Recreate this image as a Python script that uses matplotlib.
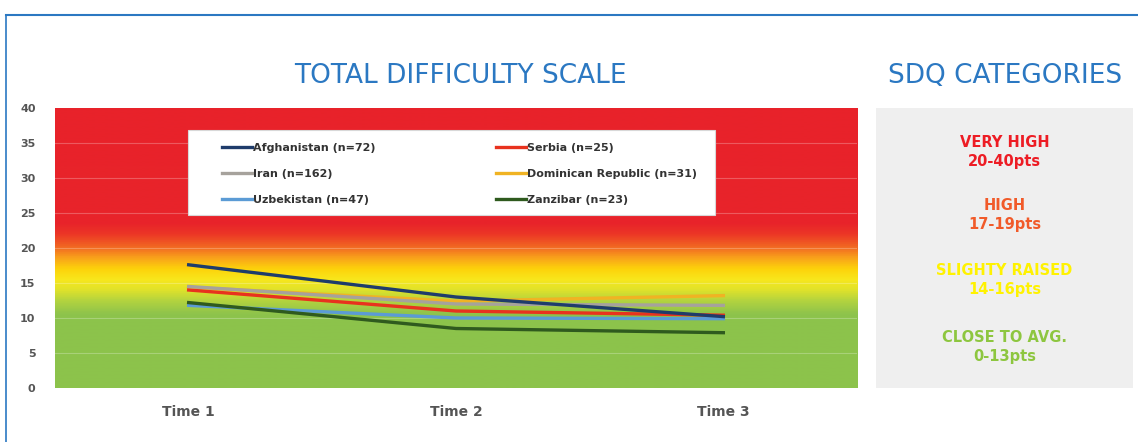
import numpy as np
import matplotlib.pyplot as plt
from matplotlib.colors import LinearSegmentedColormap
from matplotlib.lines import Line2D
from matplotlib.patches import Rectangle

# data
times = ['Time 1', 'Time 2', 'Time 3']
countries = ['Afghanistan (n=72)', 'Iran (n=162)', 'Uzbekistan (n=47)',
             'Serbia (n=25)', 'Dominican Republic (n=31)', 'Zanzibar (n=23)']
afghanistan = [17.6, 13.0, 10.2]
iran = [14.5, 12.0, 11.8]
uzbekistan = [11.8, 10.0, 9.9]
serbia = [14.0, 11.0, 10.4]
dominican = [14.4, 12.4, 13.2]
zanzibar = [12.2, 8.5, 7.9]
colors = ['#1f3c6b', '#a6a29c', '#5b9bd5', '#e8321e', '#f0b323', '#2f5a1e']

yticks = [0, 5, 10, 15, 20, 25, 30, 35, 40]
categories = ['VERY HIGH\n20-40pts', 'HIGH\n17-19pts',
              'SLIGHTY RAISED\n14-16pts', 'CLOSE TO AVG.\n0-13pts']
cat_colors = ['#ed1c24', '#f15a29', '#fff200', '#8dc63f']

blue = '#2b78c2'
W, H = 1138, 442
fig = plt.figure(figsize=(W / 100, H / 100), dpi=100)
fig.patch.set_facecolor('white')

# outer frame (top + left)
fig.add_artist(Line2D([6 / W, 1], [1 - 15 / H, 1 - 15 / H], color=blue, lw=1.5))
fig.add_artist(Line2D([6 / W, 6 / W], [0, 1 - 15 / H], color=blue, lw=1.2))

ax = fig.add_axes([55 / W, (H - 388) / H, 802 / W, 280 / H])

# background gradient by score value
nodes = [(0.0, '#8cc34b'), (10.5 / 40, '#8dc34c'), (12.5 / 40, '#b5d43e'),
         (14 / 40, '#e0e22a'), (15.5 / 40, '#f8e71c'), (17 / 40, '#fdd20a'),
         (18.5 / 40, '#f9a51a'), (20 / 40, '#f26c22'), (22 / 40, '#ec3626'),
         (23.5 / 40, '#e8242a'), (1.0, '#e8222a')]
cmap = LinearSegmentedColormap.from_list('sdq', nodes)
grad = np.linspace(0, 1, 400).reshape(-1, 1)
ax.imshow(grad, cmap=cmap, aspect='auto', origin='lower',
          extent=[0, 3, 0, 40], zorder=0)
for v in yticks[1:-1]:
    ax.axhline(v, color='white', lw=0.8, alpha=0.25, zorder=1)

x = np.arange(len(times)) + 0.5
series = [afghanistan, iran, uzbekistan, serbia, dominican, zanzibar]
order = [2, 4, 3, 1, 0, 5]  # drawing order (back to front)
handles = [None] * len(series)
for i in order:
    ln, = ax.plot(x, series[i], color=colors[i], lw=2.4, zorder=3)
    handles[i] = ln

ax.set_xlim(0, 3)
ax.set_ylim(0, 40)
ax.set_xticks(x)
ax.set_xticklabels(times, fontsize=10, fontweight='bold', color='#555555')
ax.set_yticks(yticks)
ax.set_yticklabels(yticks, fontsize=8, fontweight='bold', color='#555555')
ax.tick_params(length=0)
ax.tick_params(axis='x', pad=12)
ax.tick_params(axis='y', pad=14)
for s in ax.spines.values():
    s.set_visible(False)

# legend box + two legend columns
ax.add_patch(Rectangle((0.166, 0.618), 0.657, 0.303, transform=ax.transAxes,
                       facecolor='white', edgecolor='#d8d8d8', lw=0.8, zorder=4))
leg_kw = dict(frameon=False, loc='upper left', handlelength=2.7,
              handletextpad=0.1, borderpad=0, borderaxespad=0,
              labelspacing=1.45, prop={'size': 8, 'weight': 'bold'})
leg1 = ax.legend(handles[:3], countries[:3],
                 bbox_to_anchor=(0.208, 0.876), **leg_kw)
ax.add_artist(leg1)
leg2 = ax.legend(handles[3:], countries[3:],
                 bbox_to_anchor=(0.550, 0.876), **leg_kw)
for lg in (leg1, leg2):
    lg.set_zorder(5)
    for t in lg.get_texts():
        t.set_color('#333333')

fig.text(460 / W, 1 - 76 / H, 'TOTAL DIFFICULTY SCALE', color=blue,
         fontsize=19, ha='center', va='center')
fig.text(1005 / W, 1 - 76 / H, 'SDQ CATEGORIES', color=blue,
         fontsize=19, ha='center', va='center')

# categories panel
pan = fig.add_axes([876 / W, (H - 388) / H, 257 / W, 280 / H])
pan.set_facecolor('#efefef')
pan.set_xticks([])
pan.set_yticks([])
for s in pan.spines.values():
    s.set_visible(False)
cat_y = [152, 215, 280, 347]
for lab, c, yy in zip(categories, cat_colors, cat_y):
    pan.text(0.5, (388 - yy) / 280, lab, color=c, fontsize=10.5,
             fontweight='bold', ha='center', va='center', linespacing=1.3,
             transform=pan.transAxes)

fig.savefig('out.png', dpi=100, facecolor='white')
